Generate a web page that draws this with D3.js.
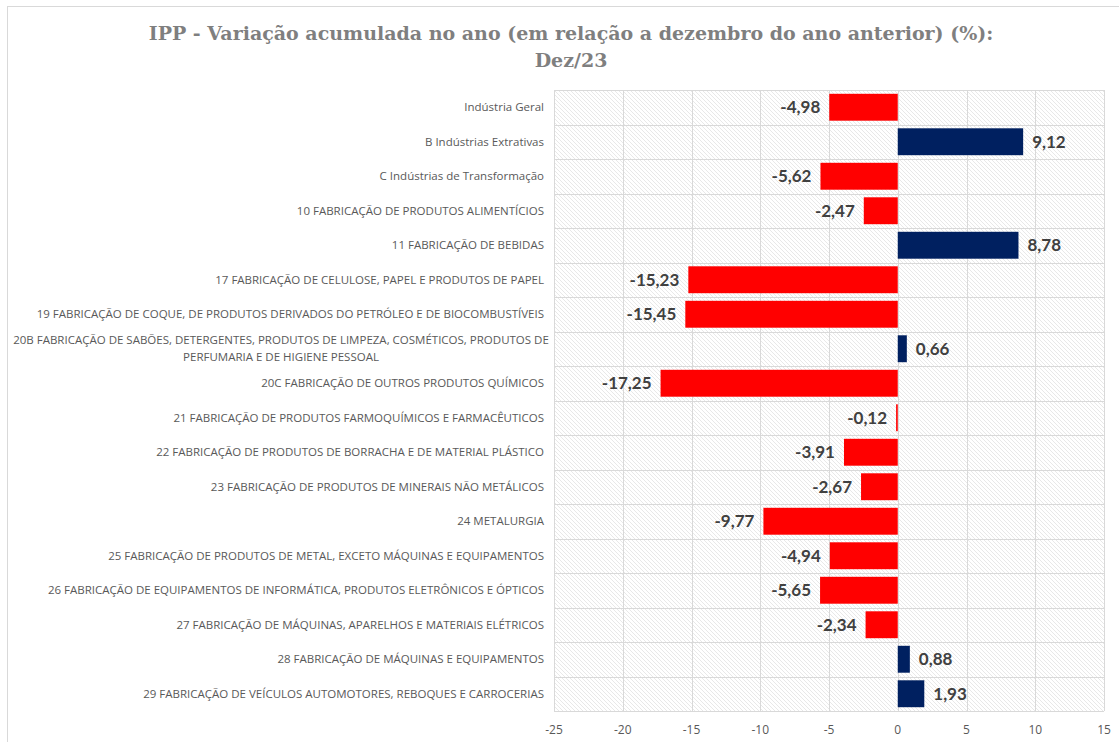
<!DOCTYPE html>
<html>
<head>
<meta charset="utf-8">
<script src="https://cdn.jsdelivr.net/npm/d3@7"></script>
<style>
  body { margin: 0; background: #fff; }
  svg { display: block; }
</style>
</head>
<body>
<div id="chart"></div>
<script>
// categories (top to bottom) and accumulated variation values
const categories = [
  "Indústria Geral",
  "B Indústrias Extrativas",
  "C Indústrias de Transformação",
  "10 FABRICAÇÃO DE PRODUTOS ALIMENTÍCIOS",
  "11 FABRICAÇÃO DE BEBIDAS",
  "17 FABRICAÇÃO DE CELULOSE, PAPEL E PRODUTOS DE PAPEL",
  "19 FABRICAÇÃO DE COQUE, DE PRODUTOS DERIVADOS DO PETRÓLEO E DE BIOCOMBUSTÍVEIS",
  "20B FABRICAÇÃO DE SABÕES, DETERGENTES, PRODUTOS DE LIMPEZA, COSMÉTICOS, PRODUTOS DE|PERFUMARIA E DE HIGIENE PESSOAL",
  "20C FABRICAÇÃO DE OUTROS PRODUTOS QUÍMICOS",
  "21 FABRICAÇÃO DE PRODUTOS FARMOQUÍMICOS E FARMACÊUTICOS",
  "22 FABRICAÇÃO DE PRODUTOS DE BORRACHA E DE MATERIAL PLÁSTICO",
  "23 FABRICAÇÃO DE PRODUTOS DE MINERAIS NÃO METÁLICOS",
  "24 METALURGIA",
  "25 FABRICAÇÃO DE PRODUTOS DE METAL, EXCETO MÁQUINAS E EQUIPAMENTOS",
  "26 FABRICAÇÃO DE EQUIPAMENTOS DE INFORMÁTICA, PRODUTOS ELETRÔNICOS E ÓPTICOS",
  "27 FABRICAÇÃO DE MÁQUINAS, APARELHOS E MATERIAIS ELÉTRICOS",
  "28 FABRICAÇÃO DE MÁQUINAS E EQUIPAMENTOS",
  "29 FABRICAÇÃO DE VEÍCULOS AUTOMOTORES, REBOQUES E CARROCERIAS"
];
const values = [-4.98, 9.12, -5.62, -2.47, 8.78, -15.23, -15.45, 0.66, -17.25, -0.12,
                -3.91, -2.67, -9.77, -4.94, -5.65, -2.34, 0.88, 1.93];
const xTicks = [-25, -20, -15, -10, -5, 0, 5, 10, 15];
const titleLines = ["IPP - Variação acumulada no ano (em relação a dezembro do ano anterior) (%):", "Dez/23"];

const width = 1119, height = 742;
const margin = {top: 90, right: 15, bottom: 31, left: 554};

const data = categories.map((c, i) => ({name: c, value: values[i]}));

const svg = d3.select('#chart').append('svg')
    .attr('width', width)
    .attr('height', height);

// hatched background pattern
const defs = svg.append('defs');
const pat = defs.append('pattern')
    .attr('id', 'hatch')
    .attr('patternUnits', 'userSpaceOnUse')
    .attr('width', 4).attr('height', 4);
pat.append('rect').attr('width', 4).attr('height', 4).attr('fill', '#fff');
pat.append('path')
    .attr('d', 'M-1,-1 L5,5 M-1,3 L1,5 M3,-1 L5,1')
    .attr('stroke', '#e2e2e2')
    .attr('stroke-width', 0.8);

// outer chart border
svg.append('rect')
    .attr('x', 7.5).attr('y', 6.5)
    .attr('width', width + 10).attr('height', height + 10)
    .attr('fill', 'none')
    .attr('stroke', '#d9d9d9');

const x = d3.scaleLinear()
    .domain([-25, 15])
    .range([margin.left, width - margin.right]);

const y = d3.scaleBand()
    .domain(categories)
    .range([margin.top, height - margin.bottom])
    .paddingInner(0.22)
    .paddingOuter(0.11);

const step = y.step();

// plot background
svg.append('rect')
    .attr('x', x(-25)).attr('y', margin.top)
    .attr('width', x(15) - x(-25))
    .attr('height', height - margin.bottom - margin.top)
    .attr('fill', 'url(#hatch)');

// grid lines
const grid = svg.append('g').attr('stroke', '#d9d9d9').attr('stroke-width', 1);
grid.selectAll('line.v')
    .data(xTicks)
    .enter()
    .append('line')
    .attr('x1', d => Math.round(x(d)) + 0.5)
    .attr('x2', d => Math.round(x(d)) + 0.5)
    .attr('y1', margin.top)
    .attr('y2', height - margin.bottom);
grid.selectAll('line.h')
    .data(d3.range(categories.length + 1))
    .enter()
    .append('line')
    .attr('x1', x(-25))
    .attr('x2', x(15))
    .attr('y1', i => Math.round(margin.top + i * step) + 0.5)
    .attr('y2', i => Math.round(margin.top + i * step) + 0.5);

// bars
svg.append('g').selectAll('rect')
    .data(data)
    .enter()
    .append('rect')
    .attr('x', d => x(Math.min(0, d.value)))
    .attr('y', d => y(d.name))
    .attr('width', d => Math.max(1, Math.abs(x(d.value) - x(0))))
    .attr('height', y.bandwidth())
    .attr('fill', d => d.value < 0 ? '#ff0000' : '#002060');

// value labels
const fmt = v => v.toFixed(2).replace('.', ',');
svg.append('g').selectAll('text')
    .data(data)
    .enter()
    .append('text')
    .attr('x', d => d.value < 0 ? x(d.value) - 9 : x(d.value) + 9)
    .attr('y', d => y(d.name) + y.bandwidth() / 2)
    .attr('dy', '0.36em')
    .attr('text-anchor', d => d.value < 0 ? 'end' : 'start')
    .attr('font-family', 'Lato, "Open Sans", sans-serif')
    .attr('font-weight', 'bold')
    .attr('font-size', 17)
    .attr('fill', '#404040')
    .text(d => fmt(d.value));

// category labels
const labels = svg.append('g')
    .attr('font-family', '"Liberation Sans Narrow", "Open Sans", sans-serif')
    .attr('font-size', 11.5)
    .attr('fill', '#595959');
data.forEach(d => {
    const lines = d.name.split('|');
    const cy = y(d.name) + y.bandwidth() / 2;
    const t = labels.append('text')
        .attr('text-anchor', lines.length > 1 ? 'middle' : 'end')
        .attr('y', cy - (lines.length - 1) * 8.5)
        .attr('dy', '0.35em');
    lines.forEach((l, i) => {
        t.append('tspan')
            .attr('x', lines.length > 1 ? 281 : 544)
            .attr('dy', i === 0 ? '0.35em' : 17)
            .text(l);
    });
});

// x axis tick labels
svg.append('g').selectAll('text')
    .data(xTicks)
    .enter()
    .append('text')
    .attr('x', d => x(d))
    .attr('y', 734)
    .attr('text-anchor', 'middle')
    .attr('font-family', '"Liberation Sans Narrow", "Open Sans", sans-serif')
    .attr('font-size', 12)
    .attr('fill', '#595959')
    .text(d => d);

// title
svg.append('g').selectAll('text')
    .data(titleLines)
    .enter()
    .append('text')
    .attr('x', 571)
    .attr('y', (d, i) => 40 + i * 27)
    .attr('text-anchor', 'middle')
    .attr('font-family', '"DejaVu Serif", serif')
    .attr('font-weight', 'bold')
    .attr('font-size', 19)
    .attr('fill', '#7f7f7f')
    .text(d => d);
</script>
</body>
</html>
